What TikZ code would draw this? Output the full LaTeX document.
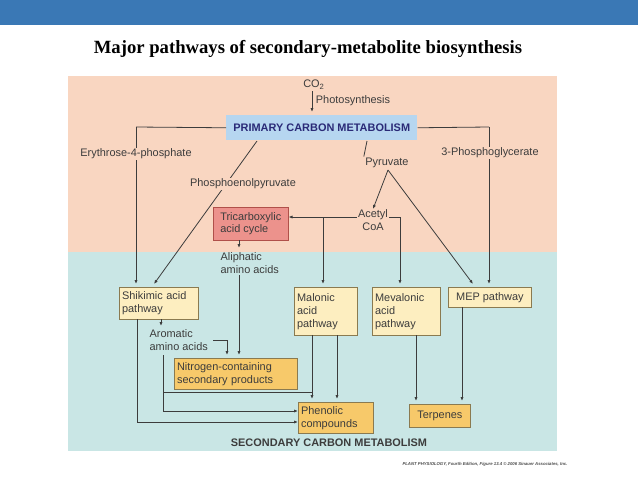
\documentclass[tikz,border=0pt]{standalone}
\usepackage{fontspec}
\setmainfont{Liberation Sans}
\newfontfamily\titlefont{Liberation Serif}
\usetikzlibrary{arrows.meta}
\definecolor{topbar}{HTML}{3A78B5}
\definecolor{peach}{HTML}{F9D6C1}
\definecolor{teal}{HTML}{C9E6E5}
\definecolor{pbox}{HTML}{B6D6F0}
\definecolor{tca}{HTML}{EC928C}
\definecolor{tcab}{HTML}{B0504A}
\definecolor{lyel}{HTML}{FDEEC0}
\definecolor{dyel}{HTML}{F7C96A}
\definecolor{ybord}{HTML}{8A7A50}
\definecolor{ln}{HTML}{3C3C3C}
\begin{document}
\begin{tikzpicture}[x=0.75pt,y=-0.75pt,
  every node/.style={font=\fontsize{8.2}{9.6}\selectfont,text=ln,inner sep=1pt},
  lbl/.style={fill=peach,align=left},
  bx/.style={draw=ybord,line width=0.6pt,anchor=north west,align=left,inner sep=0pt},
  ar/.style={draw=ln,line width=0.6pt,-{Latex[length=3pt,width=2.4pt]}},
  ln/.style={draw=ln,line width=0.6pt}]
\useasboundingbox (0,0) rectangle (638,479);
\fill[white] (0,0) rectangle (638,479);
\fill[topbar] (0,0) rectangle (638,25);
\node[font=\titlefont\bfseries\fontsize{14}{16}\selectfont,text=black] (title) at (308,49) {Major pathways of secondary-metabolite biosynthesis};
\fill[peach] (68,76) rectangle (557,252);
\fill[teal] (68,252) rectangle (557,451);
% nodes
\node (co2) at (314,85) {CO\textsubscript{2}};
\node (photo) at (353,101) {Photosynthesis};
\node[fill=pbox,minimum width=191\pgflinewidth,font=\fontsize{8.2}{9.6}\selectfont\bfseries,text=ln!70!blue,anchor=north west,minimum width=143.25pt,minimum height=18.75pt] (pcm) at (226,115) {PRIMARY CARBON METABOLISM};
\node (pyr) at (387,163) {Pyruvate};
\node[align=center] (acoa) at (373,220) {Acetyl\\CoA};
\node[draw=tcab,fill=tca,anchor=north west,minimum width=56.25pt,minimum height=24.75pt,align=left,inner sep=2pt] (tca) at (213,207) {Tricarboxylic\\acid cycle};
\node[align=left,anchor=north west] (ali) at (219,251) {Aliphatic\\amino acids};
\node[bx,fill=lyel,minimum width=58.5pt,minimum height=24pt,text width=55pt,inner xsep=2pt] (shik) at (119,287) {Shikimic acid\\pathway};
\node[bx,fill=lyel,minimum width=45.75pt,minimum height=36pt,text width=43pt,inner xsep=2pt] (mal) at (294,287) {Malonic\\acid\\pathway};
\node[bx,fill=lyel,minimum width=49.5pt,minimum height=36pt,text width=47pt,inner xsep=2pt] (mev) at (372,287) {Mevalonic\\acid\\pathway};
\node[bx,fill=lyel,minimum width=62.25pt,minimum height=15pt,align=center] (mep) at (448,287) {MEP pathway};
\node[align=left,anchor=north west] (aro) at (148,328) {Aromatic\\amino acids};
\node[bx,fill=dyel,minimum width=91.5pt,minimum height=23.25pt,text width=88pt,inner xsep=2pt] (nit) at (174,358) {Nitrogen-containing\\secondary products};
\node[bx,fill=dyel,minimum width=55.5pt,minimum height=23.25pt,text width=52pt,inner xsep=2pt] (phen) at (298,402) {Phenolic\\compounds};
\node[bx,fill=dyel,minimum width=45.75pt,minimum height=17.25pt,align=center] (terp) at (409,404) {Terpenes};
\node[font=\fontsize{8.2}{9.6}\selectfont\bfseries] (scm) at (329,443) {SECONDARY CARBON METABOLISM};
\node[font=\fontsize{3.2}{4}\selectfont\bfseries\itshape,text=black!70] (foot) at (485,464) {PLANT PHYSIOLOGY, Fourth Edition, Figure 13.4 \textcopyright\ 2006 Sinauer Associates, Inc.};
% coordinates
\coordinate (lc) at (136,127);
\coordinate (rc) at (489,127);
\coordinate (pepS) at (257,141);
\coordinate (pyS) at (367,141);
\coordinate (br) at (323,217);
\coordinate (ar1) at (400,217);
% connectors
\draw[ar] (co2.south -| 312,0) ++(0,0) -- (312,112);
\draw[ln] (pcm.west) -- (lc);
\draw[ar] (lc) -- (136,284);
\draw[ln] (pcm.east) -- (rc);
\draw[ar] (rc) -- (489,284);
\draw[ar] (pepS) -- (154,284);
\draw[ln] (pyS) -- (pyr.north west);
\draw[ar] (388,170) -- (373,209);
\draw[ar] (388,170) -- (473,284);
\draw[ar] (acoa.west |- br) -- (tca.east |- br);
\draw[ar] (br) -- (323,284);
\draw[ar] (acoa.east |- br) -- (ar1) -- (400,284);
\draw[ar] (239,240) -- (239,248);
\draw[ar] (239,275) -- (239,355);
\draw[ar] (161,319) -- (161,326);
\draw[ar] (213,340) -- (227,340) -- (227,355);
\draw[ar] (137,319) -- (137,422) -- (phen.west |- 0,422);
\draw[ar] (163,355) -- (163,411) -- (phen.west |- 0,411);
\draw[ln] (163,392) -- (312,392);
\draw[ar] (312,335) -- (312,399);
\draw[ar] (337,335) -- (337,399);
\draw[ar] (416,335) -- (416,401);
\draw[ar] (462,307) -- (462,401);
% labels on lines
\node[lbl] (e4p) at (136,154) {Erythrose-4-phosphate};
\node[lbl] (pga) at (490,153) {3-Phosphoglycerate};
\node[lbl] (pep) at (243,184) {Phosphoenolpyruvate};
\end{tikzpicture}
\end{document}
